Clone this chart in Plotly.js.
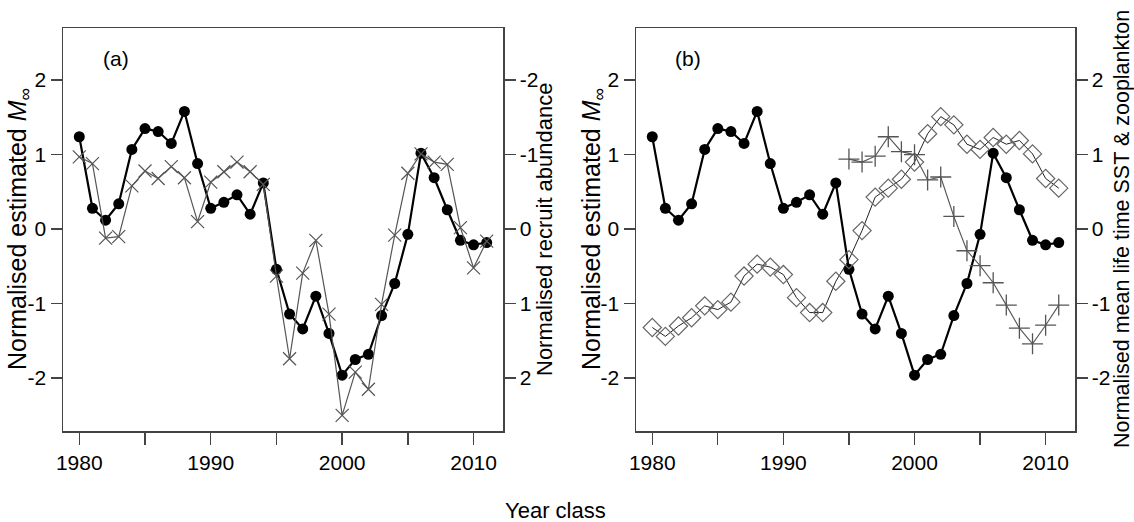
<!DOCTYPE html>
<html>
<head>
<meta charset="utf-8">
<script src="https://cdn.plot.ly/plotly-3.0.1.min.js"></script>
<style>html,body{margin:0;padding:0;background:#fff;}#chart{width:1134px;height:522px;}</style>
</head>
<body>
<div id="chart"></div>
<script>
// Year classes
const years = [1980,1981,1982,1983,1984,1985,1986,1987,1988,1989,1990,1991,1992,1993,1994,1995,
               1996,1997,1998,1999,2000,2001,2002,2003,2004,2005,2006,2007,2008,2009,2010,2011];
// Normalised estimated M-infinity (both panels)
const mInf = [1.24,0.28,0.12,0.34,1.07,1.35,1.31,1.15,1.58,0.88,0.28,0.36,0.46,0.20,0.62,-0.54,
              -1.14,-1.34,-0.90,-1.40,-1.96,-1.75,-1.68,-1.16,-0.73,-0.07,1.02,0.69,0.26,-0.15,-0.21,-0.18];
// Normalised recruit abundance (right axis of panel a, reversed)
const recruit = [-0.97,-0.88,0.12,0.10,-0.58,-0.78,-0.68,-0.84,-0.69,-0.10,-0.63,-0.77,-0.90,-0.77,-0.60,0.63,
                 1.74,0.59,0.15,1.14,2.50,1.92,2.15,1.01,0.08,-0.75,-1.01,-0.90,-0.87,-0.02,0.52,0.16];
// Normalised mean life time SST (diamonds, panel b)
const sst = [-1.32,-1.44,-1.30,-1.19,-1.03,-1.08,-0.98,-0.63,-0.47,-0.51,-0.61,-0.92,-1.12,-1.12,-0.70,-0.41,
             -0.02,0.43,0.55,0.67,0.90,1.28,1.51,1.40,1.14,1.07,1.23,1.14,1.19,1.01,0.68,0.55];
// Normalised mean life time zooplankton (plus signs, panel b)
const zooYears = [1995,1996,1997,1998,1999,2000,2001,2002,2003,2004,2005,2006,2007,2008,2009,2010,2011];
const zoo = [0.94,0.90,0.98,1.24,1.04,1.00,0.66,0.70,0.17,-0.29,-0.49,-0.72,-1.02,-1.33,-1.54,-1.29,-1.02];

const xTickVals = [1980,1990,2000,2010];
const xTickText = ['1980','1990','2000','2010'];
const yTickVals = [-2,-1,0,1,2];
const yTickText = ['-2','-1','0','1','2'];

const FONT = 'Liberation Sans, Arial, sans-serif';
const frame = '#444';

const circ = (xa, ya) => ({
  x: years, y: mInf, xaxis: xa, yaxis: ya, mode: 'lines+markers', type: 'scatter',
  line: {color: '#000', width: 2.2},
  marker: {symbol: 'circle', size: 11, color: '#000'},
  showlegend: false, hoverinfo: 'skip'
});

const traces = [
  circ('x', 'y'),
  {x: years, y: recruit, xaxis: 'x', yaxis: 'y2', mode: 'lines+markers', type: 'scatter',
   line: {color: '#555', width: 1.2},
   marker: {symbol: 'x-thin-open', size: 13, line: {color: '#333', width: 1.2}},
   showlegend: false, hoverinfo: 'skip'},
  circ('x2', 'y3'),
  {x: years, y: sst, xaxis: 'x2', yaxis: 'y4', mode: 'lines+markers', type: 'scatter',
   line: {color: '#222', width: 1},
   marker: {symbol: 'diamond-open', size: 14, color: '#666', line: {color: '#666', width: 1.2}},
   showlegend: false, hoverinfo: 'skip'},
  {x: zooYears, y: zoo, xaxis: 'x2', yaxis: 'y4', mode: 'lines+markers', type: 'scatter',
   line: {color: '#555', width: 1.1},
   marker: {symbol: 'cross-thin-open', size: 15, line: {color: '#111', width: 1.3}},
   showlegend: false, hoverinfo: 'skip'}
];

const W = 1134, H = 522;
const px = v => v / W, py = v => (H - v) / H;
const xr = [1978.76, 2012.24];
const yr = [-2.71, 2.70];

const xAxis = (dom, anchor) => ({
  domain: dom, anchor: anchor, range: xr, tickmode: 'array', tickvals: xTickVals, ticktext: xTickText,
  ticks: 'outside', ticklen: 12, tickwidth: 1.3, tickcolor: frame,
  minor: {tick0: 1980, dtick: 5, ticks: 'outside', ticklen: 12, tickwidth: 1.3, tickcolor: frame, showgrid: false},
  showline: true, mirror: true, linecolor: frame, linewidth: 1.5,
  showgrid: false, zeroline: false, tickfont: {family: FONT, size: 21, color: '#000'}
});
const yAxisL = (anchor) => ({
  domain: [py(431), py(28)], anchor: anchor, range: yr, tickmode: 'array', tickvals: yTickVals, ticktext: yTickText,
  ticks: 'outside', ticklen: 11, tickwidth: 1.3, tickcolor: frame,
  showline: true, mirror: true, linecolor: frame, linewidth: 1.5,
  showgrid: false, zeroline: false, tickfont: {family: FONT, size: 21, color: '#000'}
});
const yAxisR = (overlay, anchor, rng) => ({
  overlaying: overlay, side: 'right', anchor: anchor, range: rng, tickmode: 'array', tickvals: yTickVals, ticktext: yTickText,
  ticks: 'outside', ticklen: 11, tickwidth: 1.3, tickcolor: frame,
  showline: true, linecolor: frame, linewidth: 1.5,
  showgrid: false, zeroline: false, tickfont: {family: FONT, size: 21, color: '#000'}
});

const ann = (text, x, y, angle, size) => ({
  text: text, xref: 'paper', yref: 'paper', x: px(x), y: py(y), xanchor: 'center', yanchor: 'middle',
  showarrow: false, textangle: angle || 0, font: {family: FONT, size: size || 22, color: '#000'}
});

const layout = {
  width: W, height: H, margin: {l: 0, r: 0, t: 0, b: 0},
  paper_bgcolor: '#fff', plot_bgcolor: '#fff', showlegend: false,
  xaxis: xAxis([px(63), px(503)], 'y'),
  yaxis: yAxisL('x'),
  yaxis2: yAxisR('y', 'x', [2.71, -2.70]),
  xaxis2: xAxis([px(636), px(1075)], 'y3'),
  yaxis3: yAxisL('x2'),
  yaxis4: yAxisR('y3', 'x2', yr),
  annotations: [
    ann('(a)', 116, 58, 0, 21),
    ann('(b)', 688, 58, 0, 21),
    ann('Normalised estimated <i>M</i><sub>∞</sub>', 19, 229, -90, 25),
    ann('Normalised recruit abundance', 544, 229, -90, 22),
    ann('Normalised estimated <i>M</i><sub>∞</sub>', 593, 229, -90, 25),
    ann('Normalised mean life time SST &amp; zooplankton', 1122, 229, -90, 21.5),
    ann('Year class', 555, 510, 0, 22)
  ]
};

Plotly.newPlot('chart', traces, layout, {displayModeBar: false, staticPlot: true});
</script>
</body>
</html>
